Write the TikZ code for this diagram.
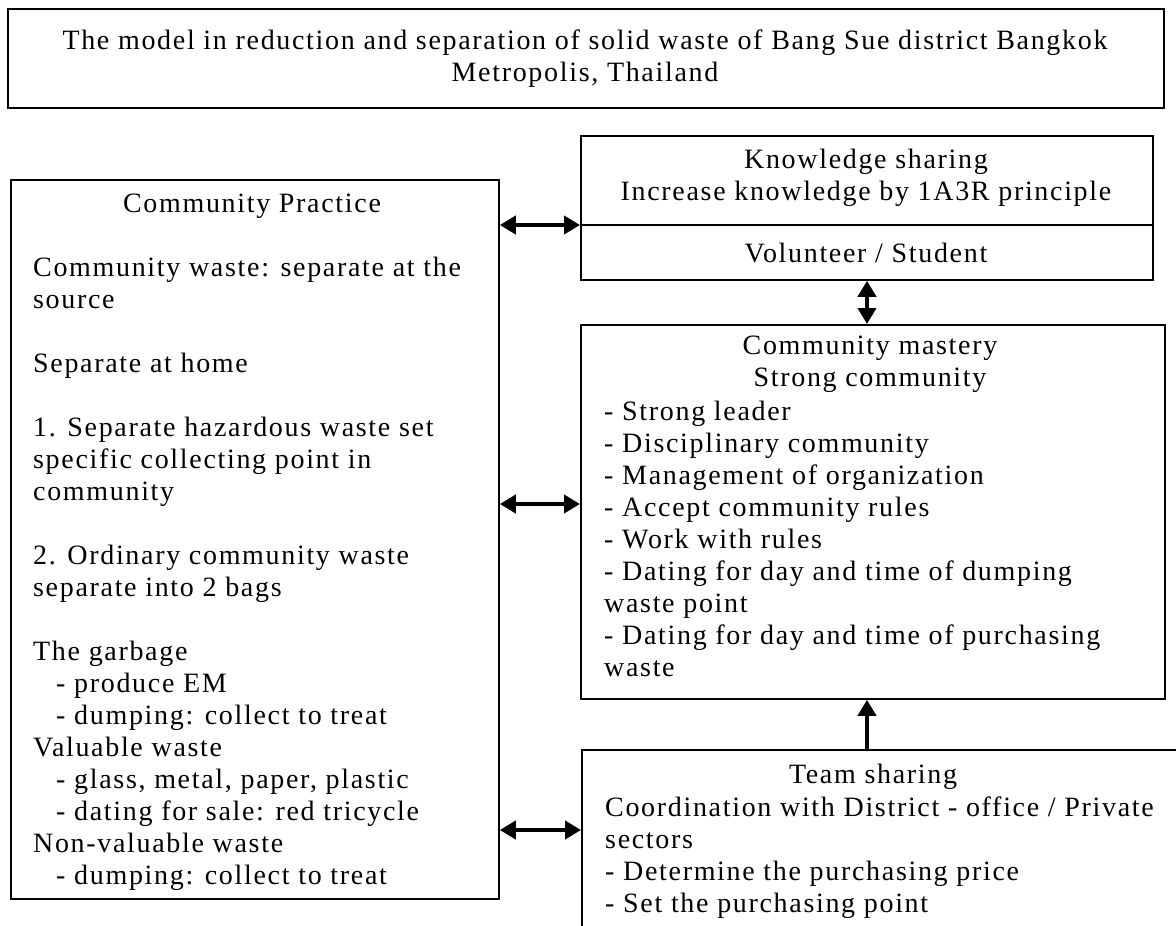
\documentclass[tikz,border=0pt]{standalone}
\usepackage{fontspec}
\setmainfont{Liberation Serif}[LetterSpace=6]
\usetikzlibrary{arrows.meta}

\tikzset{
  box/.style={draw, line width=1.8pt, inner sep=0pt, anchor=north west},
  txt/.style={inner sep=0pt, align=left, anchor=north west, font=\fontsize{28}{32}\selectfont},
  ctxt/.style={txt, align=center, anchor=north},
  both/.style={{Triangle[length=16pt,width=18pt]}-{Triangle[length=16pt,width=18pt]}, line width=4pt},
  up/.style={-{Triangle[length=16pt,width=18pt]}, line width=4pt},
}
\newcommand{\ind}{\hspace*{23pt}}

\begin{document}
\begin{tikzpicture}[x=1pt,y=-1pt]
  \useasboundingbox (0,0) rectangle (1176,926);
  \clip (0,0) rectangle (1176,926);
  % boxes
  \node[box, minimum width=1156pt, minimum height=99pt] (head) at (7,8) {};
  \node[box, minimum width=488pt, minimum height=719pt] (practice) at (10,179) {};
  \node[box, minimum width=572pt, minimum height=144pt] (know) at (580,135) {};
  \node[box, minimum width=584pt, minimum height=374pt] (mastery) at (580,324) {};
  \node[box, minimum width=700pt, minimum height=300pt] (team) at (581,749) {};
  \coordinate (div) at (0,225);
  \coordinate (mid) at (0,504);
  \coordinate (low) at (0,830);
  \coordinate (col) at (867,0);
  \draw[line width=1.8pt] (know.west |- div) -- (know.east |- div);
  % arrows
  \draw[both] (practice.east |- div) -- (know.west |- div);
  \draw[both] (practice.east |- mid) -- (mastery.west |- mid);
  \draw[both] (practice.east |- low) -- (team.west |- low);
  \draw[both] (know.south -| col) -- (mastery.north -| col);
  \draw[up] (team.north -| col) -- (mastery.south -| col);
  % texts
  \node[ctxt] (headtext) at (585,30) {The model in reduction and separation of solid waste of Bang Sue district Bangkok\\ Metropolis, Thailand};
  \node[ctxt] (knowtext) at (866,149) {Knowledge sharing\\ Increase knowledge by 1A3R principle};
  \node[ctxt] (voltext) at (866,243) {Volunteer / Student};
  \node[ctxt] (masttitle) at (870,336) {Community mastery\\ Strong community};
  \node[txt] (masttext) at (604,401) {- Strong leader\\ - Disciplinary community\\ - Management of organization\\ - Accept community rules\\ - Work with rules\\ - Dating for day and time of dumping\\ waste point\\ - Dating for day and time of purchasing\\ waste};
  \node[ctxt] (teamtitle) at (873,764) {Team sharing};
  \node[txt] (teamtext) at (605,797) {Coordination with District - office / Private\\ sectors\\ - Determine the purchasing price\\ - Set the purchasing point};
  \node[ctxt] (practitle) at (252,194) {Community Practice};
  \node[txt] (practext) at (33,257) {Community waste: separate at the\\ source\\[32pt]
    Separate at home\\[32pt]
    1. Separate hazardous waste set\\ specific collecting point in\\ community\\[32pt]
    2. Ordinary community waste\\ separate into 2 bags\\[32pt]
    The garbage\\ \ind- produce EM\\ \ind- dumping: collect to treat\\
    Valuable waste\\ \ind- glass, metal, paper, plastic\\ \ind- dating for sale: red tricycle\\
    Non-valuable waste\\ \ind- dumping: collect to treat};
\end{tikzpicture}
\end{document}
